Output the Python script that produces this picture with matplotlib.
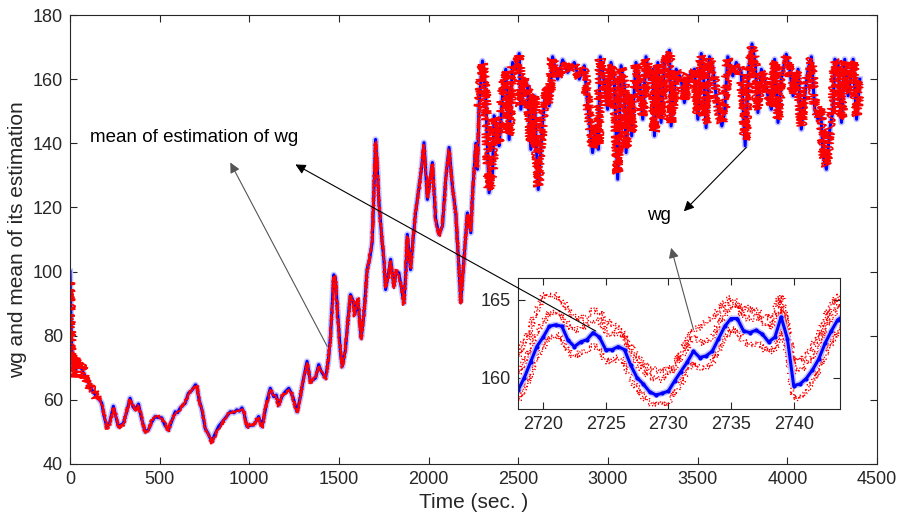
import numpy as np
import matplotlib.pyplot as plt

plt.rcParams['font.family'] = ['Liberation Sans', 'DejaVu Sans']

# wg and the mean of its estimation over the whole run
t_main = [0, 9, 20, 28, 40, 56, 70, 84, 100, 112,
          130, 149, 165, 177, 190, 205, 220, 242, 255, 270,
          298, 315, 335, 350, 363, 382, 400, 419, 437, 455,
          475, 490, 512, 530, 549, 565, 587, 600, 615, 643,
          660, 680, 700, 708, 720, 736, 754, 770, 791, 810,
          829, 857, 875, 894, 915, 931, 945, 959, 970, 987,
          1005, 1024, 1040, 1052, 1071, 1090, 1100, 1117, 1136, 1150,
          1164, 1182, 1200, 1220, 1235, 1248, 1266, 1285, 1300, 1322,
          1341, 1369, 1387, 1400, 1425, 1440, 1453, 1471, 1480, 1495,
          1508, 1518, 1536, 1550, 1564, 1578, 1588, 1605, 1624, 1639,
          1657, 1671, 1685, 1695, 1704, 1713, 1723, 1741, 1750, 1760,
          1775, 1788, 1806, 1820, 1834, 1848, 1862, 1873, 1881, 1899,
          1913, 1927, 1946, 1960, 1974, 1993, 2006, 2021, 2039, 2058,
          2077, 2095, 2114, 2132, 2151, 2165, 2179, 2197, 2216, 2235,
          2244, 2263, 2272, 2281, 2300, 2318, 2337, 2356, 2365, 2384,
          2393, 2412, 2430, 2449, 2468, 2486, 2505, 2514, 2533, 2551,
          2570, 2589, 2611, 2635, 2654, 2672, 2691, 2719, 2747, 2775,
          2812, 2840, 2868, 2886, 2914, 2933, 2946, 2957, 2980, 2998,
          3017, 3035, 3054, 3073, 3091, 3101, 3119, 3132, 3156, 3175,
          3194, 3212, 3231, 3250, 3259, 3278, 3296, 3315, 3343, 3352,
          3380, 3408, 3426, 3454, 3482, 3501, 3520, 3535, 3547, 3566,
          3585, 3603, 3622, 3635, 3650, 3668, 3696, 3715, 3743, 3765,
          3784, 3803, 3821, 3836, 3855, 3873, 3892, 3911, 3929, 3948,
          3966, 3994, 4013, 4032, 4060, 4078, 4097, 4116, 4134, 4153,
          4171, 4186, 4200, 4218, 4237, 4255, 4265, 4283, 4302, 4320,
          4339, 4367, 4386, 4404]

wg_main = [100, 76, 70, 68, 72, 71, 69, 67.3, 66, 64.2,
           62.5, 61, 60, 59, 55, 51.7, 52.5, 58, 55, 51.7,
           52.7, 56, 60.5, 58, 57, 58.7, 54, 50.1, 50.6, 53,
           54.8, 54.5, 54.4, 52, 50.6, 53, 56.3, 56, 57.5, 59,
           62, 63, 64.7, 64, 60, 56.9, 51.1, 49.5, 47, 49.5,
           51.7, 53.7, 55, 56.3, 56, 56.9, 56.5, 57.5, 56, 51.7,
           52, 52.2, 53.5, 54.8, 51.7, 57, 60, 63.6, 61, 61.5,
           58.4, 61, 62.5, 63.6, 62, 60, 56.3, 61, 66, 72,
           65.7, 66.8, 71, 69, 66.8, 72, 80, 99, 98, 85,
           75, 70.4, 75.6, 85, 92.8, 91, 86.6, 91.3, 79.3, 86.6,
           100.6, 104, 109, 125, 141.2, 133, 121.5, 109, 104, 94.4,
           99, 103.8, 95.4, 100, 99.6, 95, 90.2, 100, 111.6, 100.6,
           110, 118.3, 126.2, 132, 140.2, 122.5, 128, 134, 116.3, 111.6,
           114.2, 128.8, 138.7, 126.7, 118.3, 105, 90.7, 103.8, 118.3, 112.1,
           123.5, 140, 131.9, 151.7, 165.7, 154.8, 124.6, 130.8, 148.6, 144.4,
           139.2, 154.8, 163.1, 141.2, 165.2, 163.1, 168, 150.6, 160, 157.9,
           138.1, 154.8, 125.6, 146.5, 156.9, 151.7, 167, 160, 166, 162.1,
           165.2, 160, 164.2, 152.7, 137.1, 145.4, 138.1, 167, 159, 150.6,
           165.2, 160, 128.8, 164.2, 157.9, 137.1, 154.8, 142.3, 165.2, 160,
           147.5, 167, 160, 163.1, 142.3, 165.2, 146.5, 165.2, 169, 145.4,
           163.1, 160, 152.7, 161, 163.1, 147.5, 168, 159, 144.9, 167,
           163.1, 154.8, 148.6, 145.4, 149.6, 167, 161, 165.2, 162.1, 139.2,
           163.1, 171, 165.2, 149.6, 163.1, 160, 154.8, 150.6, 166.2, 146.5,
           160, 167.8, 163.1, 154.8, 163.1, 144.4, 154.8, 163.1, 167, 150.6,
           147.5, 150.6, 136, 131.9, 144.4, 150.6, 166.2, 165, 146.5, 166.2,
           154.8, 166.2, 147.5, 160]

est_main = [97, 75, 72, 67, 73, 70, 71, 66, 67, 63.5,
            63, 60.5, 60.5, 58.5, 55.5, 51, 52, 57.5, 55.5, 51.2,
            52.2, 56.5, 60, 58.5, 56.5, 58.2, 54.5, 49.6, 50.2, 53.5,
            54.5, 55, 54, 52.5, 50.1, 53.5, 56, 56.5, 57, 59.5,
            61.5, 63.5, 64.2, 64.5, 59.5, 57.3, 50.6, 49.8, 46.5, 49,
            51.2, 53.2, 55.4, 55.8, 56.5, 56.4, 57, 57, 56.5, 51.2,
            52.4, 51.8, 54, 54.4, 51.2, 57.4, 59.6, 63.2, 61.4, 61,
            58, 61.4, 62, 63.2, 62.4, 59.6, 56, 61.5, 65.5, 71.5,
            65.3, 67.2, 70.5, 69.4, 66.3, 72.5, 79.5, 98.5, 98.4, 84.5,
            75.5, 70, 76, 84.5, 92.3, 91.5, 86, 91.8, 78.8, 87,
            100, 104.5, 108.5, 125.5, 140.5, 133.5, 121, 109.5, 103.5, 95,
            98.5, 103.3, 94.8, 100.5, 99, 95.5, 89.6, 100.5, 111, 101,
            109.5, 118.8, 125.6, 132.5, 139.6, 123, 127.5, 133.5, 116.8, 111,
            114.8, 128.2, 138.1, 127.2, 117.7, 105.5, 90, 104.3, 117.8, 112.6,
            123, 139.5, 132.4, 151, 165, 155.3, 125.5, 131.3, 148, 145,
            140, 155.5, 162.5, 142.5, 164.5, 163.5, 167.5, 151.5, 160.5, 158.5,
            139, 155.3, 126.5, 147, 157.5, 152.5, 166.5, 160.5, 165.5, 162.6,
            164.6, 160.5, 163.6, 153.5, 138.5, 146, 139.5, 166.4, 159.5, 151.5,
            164.6, 160.5, 130.5, 163.6, 158.5, 138.5, 155.3, 143.5, 164.6, 160.5,
            148.5, 166.4, 160.5, 162.6, 143.5, 164.6, 147.5, 164.6, 168.4, 146.5,
            162.6, 160.5, 153.5, 161.5, 162.6, 148.5, 167.4, 159.5, 146, 166.4,
            162.6, 155.3, 149.5, 146.5, 150.5, 166.4, 161.5, 164.6, 162.6, 141,
            162.6, 170.2, 164.6, 150.5, 162.6, 160.5, 155.3, 151.5, 165.6, 147.5,
            160.5, 167.2, 162.6, 155.3, 162.6, 145.5, 155.3, 162.6, 166.4, 151.5,
            148.5, 151.5, 137, 133, 145, 151.5, 165.6, 164.5, 147.5, 165.6,
            155.3, 165.6, 148.5, 159.5]

# zoomed window, 0.5 s sampling
t_zoom = np.arange(2718.0, 2744.01, 0.5)
wg_zoom = [159.2, 160.0, 161.0, 162.0, 162.6, 163.3, 163.4, 163.3, 162.4, 162.0,
           162.3, 162.45, 162.9, 162.6, 161.8, 161.8, 162.0, 161.8, 160.8, 160.0,
           159.6, 159.1, 158.9, 159.0, 159.15, 159.8, 160.4, 161.0, 161.7, 161.3,
           161.4, 161.7, 162.5, 163.3, 163.8, 163.8, 163.0, 162.9, 163.05, 162.8,
           162.3, 162.6, 163.9, 162.5, 159.5, 159.6, 159.95, 160.5, 161.2, 162.2,
           163.0, 163.7, 164.0]
est_hi = [161.4, 162.3, 163.2, 164.3, 165.2, 165.4, 165.3, 165.0, 164.3, 163.9,
          163.8, 163.9, 164.3, 164.2, 163.7, 163.4, 163.2, 162.7, 162.0, 161.3,
          160.9, 160.6, 160.5, 160.4, 160.5, 161.0, 161.7, 162.4, 163.0, 163.3,
          163.6, 163.9, 164.3, 164.8, 165.1, 164.8, 164.5, 164.4, 164.3, 164.0,
          163.8, 164.4, 165.3, 163.0, 161.0, 161.1, 161.5, 162.1, 163.0, 163.8,
          164.6, 165.2, 165.5]
est_mid = [160.3, 161.0, 161.9, 162.9, 163.6, 164.1, 164.3, 164.1, 163.3, 163.0,
           163.2, 163.4, 163.7, 163.6, 162.9, 162.8, 162.9, 162.6, 161.7, 160.9,
           160.5, 160.1, 159.9, 159.9, 160.1, 160.7, 161.4, 161.9, 162.6, 162.3,
           162.3, 162.6, 163.4, 164.1, 164.6, 164.7, 163.9, 163.8, 163.9, 163.7,
           163.2, 163.6, 164.6, 163.4, 160.4, 160.5, 160.9, 161.4, 162.1, 163.1,
           163.9, 164.5, 164.8]
est_lo = [158.6, 159.3, 160.3, 161.3, 162.0, 162.6, 162.8, 162.6, 161.7, 161.3,
          161.6, 161.7, 162.0, 161.9, 161.1, 161.0, 161.3, 161.0, 160.0, 159.3,
          158.8, 158.4, 158.2, 158.3, 158.5, 159.1, 159.7, 160.3, 161.0, 160.6,
          160.7, 161.0, 161.8, 162.6, 163.1, 163.0, 162.3, 162.1, 162.3, 162.0,
          161.6, 161.9, 163.1, 161.7, 158.7, 158.8, 159.2, 159.8, 160.5, 161.5,
          162.3, 163.0, 163.3]

assert len(t_main) == len(wg_main) == len(est_main)

t = np.array(t_main)
wg = np.array(wg_main)
est = np.array(est_main)

fig = plt.figure(figsize=(8.97, 5.25), dpi=100)
ax = fig.add_axes([0.078, 0.1162, 0.8997, 0.8552])

ink = '#262626'

# true wg: light halo + blue line
ax.plot(t, wg, color='#c4c4ff', lw=4.5, solid_joinstyle='round')
ax.plot(t, wg, color='blue', lw=2.2)

# estimate: noisy at the start and in the high region
start = t <= 150
mid = (t >= 149) & (t <= 2281)
high = t >= 2281
for sel, amp, lw in [(start, 4.5, 1.3), (mid, 1.2, 1.4), (high, 5, 1.2)]:
    ln, = ax.plot(t[sel], est[sel], color='red', lw=lw)
    ln.set_sketch_params(scale=amp, length=1.0, randomness=3)

ax.set_xlim(0, 4500)
ax.set_ylim(40, 180)
ax.set_xticks(range(0, 4501, 500))
ax.set_yticks(range(40, 181, 20))
ax.tick_params(direction='in', top=True, right=True, length=5, width=0.8,
               colors=ink, labelsize=13, pad=5)
for s in ax.spines.values():
    s.set_color(ink)
    s.set_linewidth(0.8)
ax.set_xlabel('Time (sec. )', fontsize=15, color=ink, labelpad=4)
ax.set_ylabel('wg and mean of its estimation', fontsize=15, color=ink, labelpad=4)

arrow = dict(arrowstyle='-|>', color='black', lw=0.8, mutation_scale=15,
             shrinkA=0, shrinkB=0)
grey_arrow = dict(arrow, color='#555555')

ax.text(112, 141.9, 'mean of estimation of wg', fontsize=13.5, color='black',
        ha='left', va='center')
ax.text(3285, 117.5, 'wg', fontsize=13.5, color='black', ha='center', va='center')
ax.annotate('', xy=(894, 134), xytext=(1434, 76.7), arrowprops=grey_arrow)
ax.annotate('', xy=(3423, 118.8), xytext=(3771, 138.7), arrowprops=arrow)

# inset with the 2718-2744 s window
axin = fig.add_axes([0.5775, 0.221, 0.359, 0.2495])
for vals in (est_hi, est_mid, est_lo):
    ln, = axin.plot(t_zoom, vals, color='red', lw=0.8, ls=(0, (1.5, 1.2)))
    ln.set_sketch_params(scale=3.5, length=1.5, randomness=3)
axin.plot(t_zoom, wg_zoom, color='#c0c0ff', lw=4.5)
axin.plot(t_zoom, wg_zoom, color='blue', lw=2.2, marker='.', ms=4)

axin.set_xlim(2718.0, 2743.7)
axin.set_ylim(158.0, 166.4)
axin.set_xticks(range(2720, 2741, 5))
axin.set_yticks([160, 165])
axin.tick_params(direction='in', top=True, right=True, length=5, width=0.8,
                 colors=ink, labelsize=13, pad=5)
for s in axin.spines.values():
    s.set_color(ink)
    s.set_linewidth(0.8)

axin.annotate('', xy=(1257, 133.4), xycoords=ax.transData,
              xytext=(2724.2, 163.0), textcoords='data', arrowprops=arrow)
axin.annotate('', xy=(3352, 107.4), xycoords=ax.transData,
              xytext=(2732.0, 163.1), textcoords='data', arrowprops=grey_arrow)

fig.savefig('out.png', dpi=100)
